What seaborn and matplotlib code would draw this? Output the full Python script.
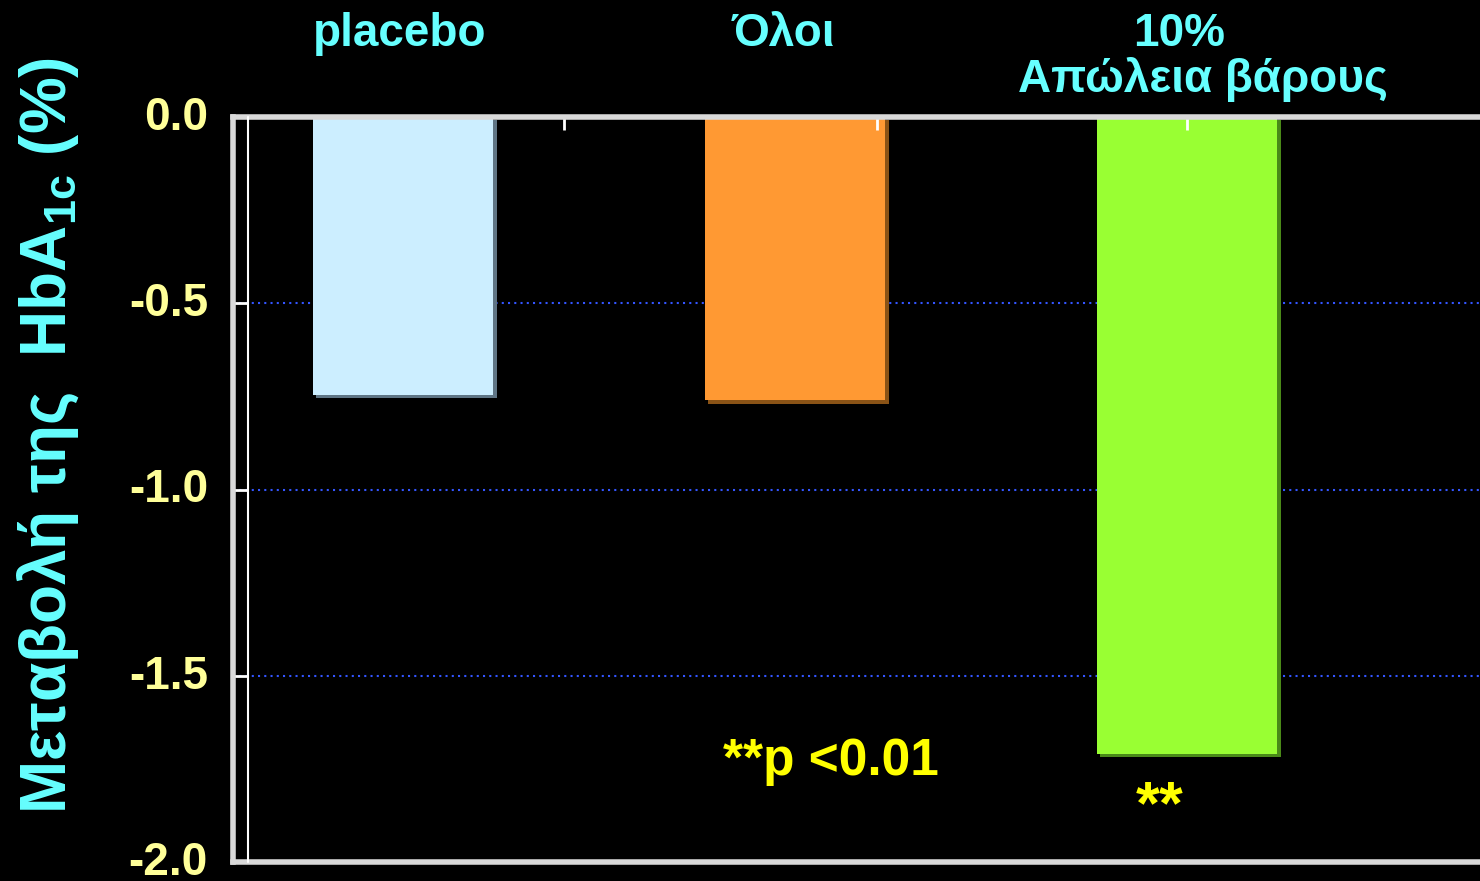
import numpy as np
import pandas as pd
import matplotlib
matplotlib.use("Agg")
import matplotlib.pyplot as plt
import matplotlib.patheffects as pe
import matplotlib.transforms as mtransforms
import seaborn as sns

# ===== 数据 =====
categories = ["placebo", "Όλοι", "10% Απώλεια βάρους"]
hba1c_change = [-0.745, -0.76, -1.71]
bar_colors = ["#cceeff", "#ff9933", "#99ff33"]
shadow_colors = ["#5f7585", "#8a5316", "#4a8a18"]
y_ticks = [0.0, -0.5, -1.0, -1.5, -2.0]
y_ticklabels = ["0.0", "-0.5", "-1.0", "-1.5", "-2.0"]
grid_levels = [-0.5, -1.0, -1.5]

CYAN = "#66ffff"
PALE_YELLOW = "#ffff99"
YELLOW = "#ffff00"
SPINE_GRAY = "#d9d9d9"

sns.set_theme(style="dark")
plt.rcParams["font.family"] = ["Liberation Sans", "DejaVu Sans"]
plt.rcParams["font.weight"] = "bold"
plt.rcParams["mathtext.fontset"] = "custom"
plt.rcParams["mathtext.rm"] = "Liberation Sans:bold"
plt.rcParams["mathtext.it"] = "Liberation Sans:bold"
plt.rcParams["mathtext.bf"] = "Liberation Sans:bold"

fig = plt.figure(figsize=(14.8, 8.81), dpi=100, facecolor="black")
ax = fig.add_axes([233 / 1480, 1 - 862 / 881, 1 - 233 / 1480, (862 - 117) / 881])
ax.set_facecolor("black")

df = pd.DataFrame({"cat": categories, "val": hba1c_change})
sns.barplot(data=df, x="cat", y="val", hue="cat", palette=bar_colors,
            legend=False, width=0.46, errorbar=None, ax=ax,
            saturation=1, linewidth=0, zorder=2)

# 阴影效果
for patch, sc in zip(ax.patches, shadow_colors):
    patch.set_path_effects([pe.SimplePatchShadow(offset=(2.5, -2.5), shadow_rgbFace=sc, alpha=1.0),
                            pe.Normal()])

ax.set_xlim(-0.434, 2.747)
ax.set_ylim(-2.0, 0.0)

# 网格（蓝色点线），放在柱子下面
ax.grid(False)
for lv in grid_levels:
    ax.axhline(lv, color="#3355ff", linestyle=(0, (1, 2)), linewidth=1.5, zorder=0.5)
ax.set_axisbelow(False)

ax.set_yticks(y_ticks)
ax.set_yticklabels(y_ticklabels)

# 轴线
for side in ["left", "top", "bottom"]:
    ax.spines[side].set_visible(True)
    ax.spines[side].set_color(SPINE_GRAY)
    ax.spines[side].set_linewidth(4)
    ax.spines[side].set_zorder(4)
ax.spines["right"].set_visible(False)
ax.plot([0.012, 0.012], [0, 1], transform=ax.transAxes, color="white", lw=1.5, zorder=5, clip_on=False)

ax.tick_params(axis="y", direction="in", length=11, width=2, color="white",
               labelcolor=PALE_YELLOW, labelsize=33, pad=18, left=True)
shift_up = mtransforms.ScaledTranslation(0, 4 / 100, fig.dpi_scale_trans)
for lbl in ax.get_yticklabels():
    lbl.set_fontweight("bold")
    lbl.set_transform(lbl.get_transform() + shift_up)

# 顶部小刻度
ax.xaxis.tick_top()
ax.set_xticks([0.41, 1.21, 2.0])
ax.set_xticklabels([])
ax.tick_params(axis="x", direction="in", length=9, width=2, color="white", top=True, bottom=False)
ax.set_xlabel("")
ax.set_ylabel("")

# 类别标签
lab_kw = dict(transform=ax.get_xaxis_transform(), ha="center", va="center",
              color=CYAN, fontsize=33, fontweight="bold")
ax.text(-0.01, 1.112, "placebo", **lab_kw)
ax.text(0.97, 1.112, "Όλοι", **lab_kw)
ax.text(1.98, 1.112, "10%", **lab_kw)
ax.text(2.04, 1.051, "Απώλεια βάρους", **lab_kw)

# 注释
ax.text(1.09, -1.73, "**p <0.01", ha="center", va="center", color=YELLOW,
        fontsize=37, fontweight="bold")
ax.text(1.93, -1.855, "**", ha="center", va="center", color=YELLOW,
        fontsize=44, fontweight="bold")

# y 轴标题
fig.text(48 / 1480, 1 - 435 / 881, "Μεταβολή της  HbA$_{\\mathbf{1c}}$ (%)", rotation=90,
         ha="center", va="center", color=CYAN, fontsize=46, fontweight="bold")

fig.savefig("out.png", dpi=100, facecolor="black")
